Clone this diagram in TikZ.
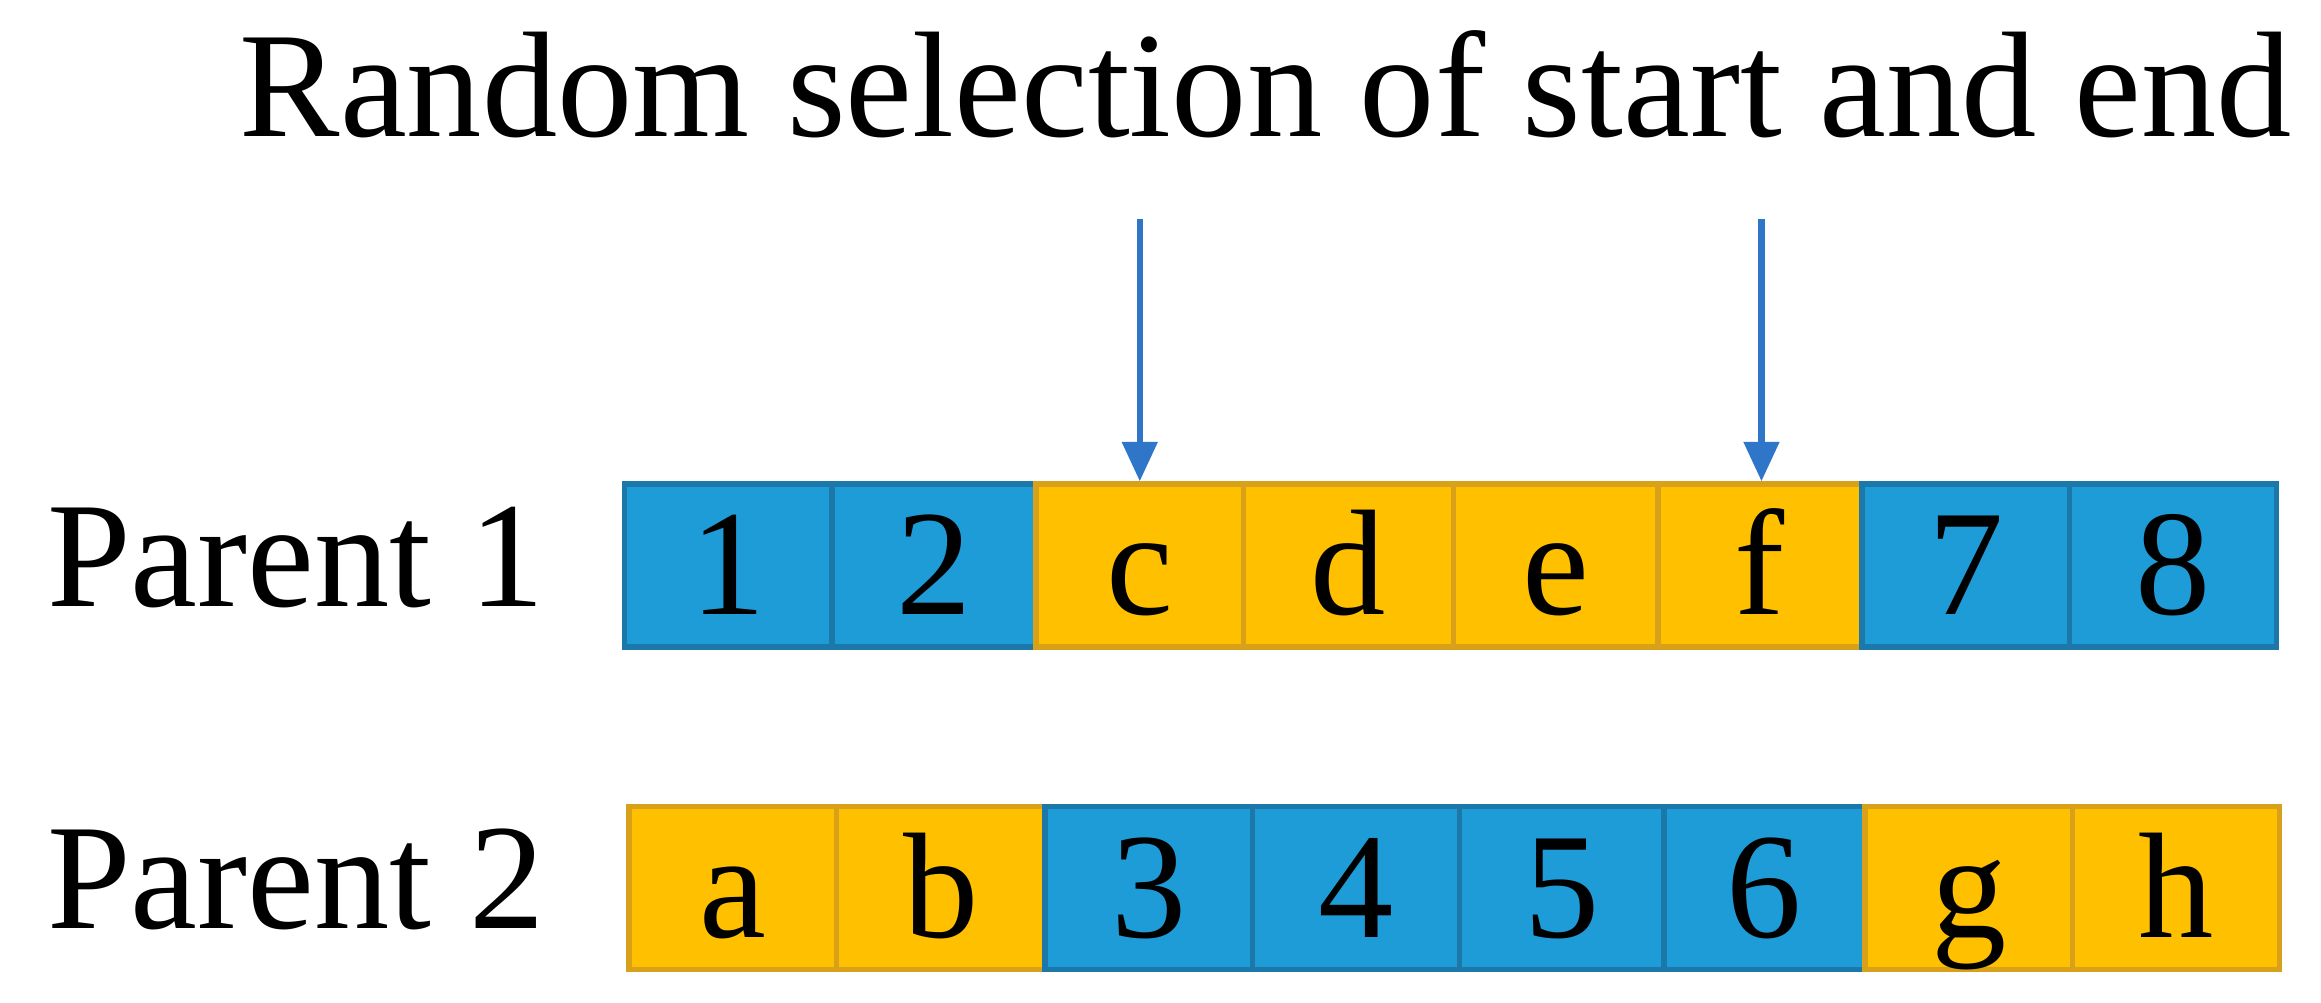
\documentclass[tikz,border=0pt]{standalone}
\usepackage{fontspec}
\setmainfont{Liberation Serif}
\usetikzlibrary{arrows.meta}
\definecolor{cb}{HTML}{1E9CD7}\definecolor{cbd}{HTML}{1B78A8}
\definecolor{co}{HTML}{FFC000}\definecolor{cod}{HTML}{D9A019}
\definecolor{arr}{HTML}{2F75C8}
\begin{document}
\begin{tikzpicture}[x=0.3pt,y=-0.3pt,
 txt/.style={font=\fontsize{30.5}{34}\selectfont},
 cell/.style={line width=1.1pt,minimum height=33pt,inner sep=0pt,txt,text height=20pt,text depth=0pt},
 bl/.style={cell,draw=cbd,fill=cb},
 or/.style={cell,draw=cod,fill=co},
 ar/.style={draw=arr,line width=1.3pt,-{Triangle[length=8pt,width=7pt]}}]
\useasboundingbox (0,0) rectangle (1568,677);
\node[txt,anchor=base] (t) at (992,92) {Random selection of start and end points};
\node[txt,anchor=base west] (p1) at (20,410) {Parent 1};
\node[txt,anchor=base west] (p2) at (20,627) {Parent 2};
\foreach \n/\a/\b/\s/\l in {a1/422/562/bl/1,a2/562/700/bl/2,a3/700/840/or/c,a4/840/982/or/d,a5/982/1120/or/e,a6/1120/1258/or/f,a7/1258/1398/bl/7,a8/1398/1538/bl/8}
 \node[\s,minimum width={(\b-\a)*0.3pt}] (\n) at ({(\a+\b)/2},382) {\l};
\foreach \n/\a/\b/\s/\l in {b1/425/565/or/a,b2/565/706/or/b,b3/706/846/bl/3,b4/846/986/bl/4,b5/986/1124/bl/5,b6/1124/1260/bl/6,b7/1260/1400/or/g,b8/1400/1540/or/h}
 \node[\s,minimum width={(\b-\a)*0.3pt}] (\n) at ({(\a+\b)/2},600) {\l};
\coordinate (s1) at (770,148); \coordinate (s2) at (1190,148);
\draw[ar] (s1) -- (a3.north -| s1);
\draw[ar] (s2) -- (a6.north -| s2);
\end{tikzpicture}
\end{document}
